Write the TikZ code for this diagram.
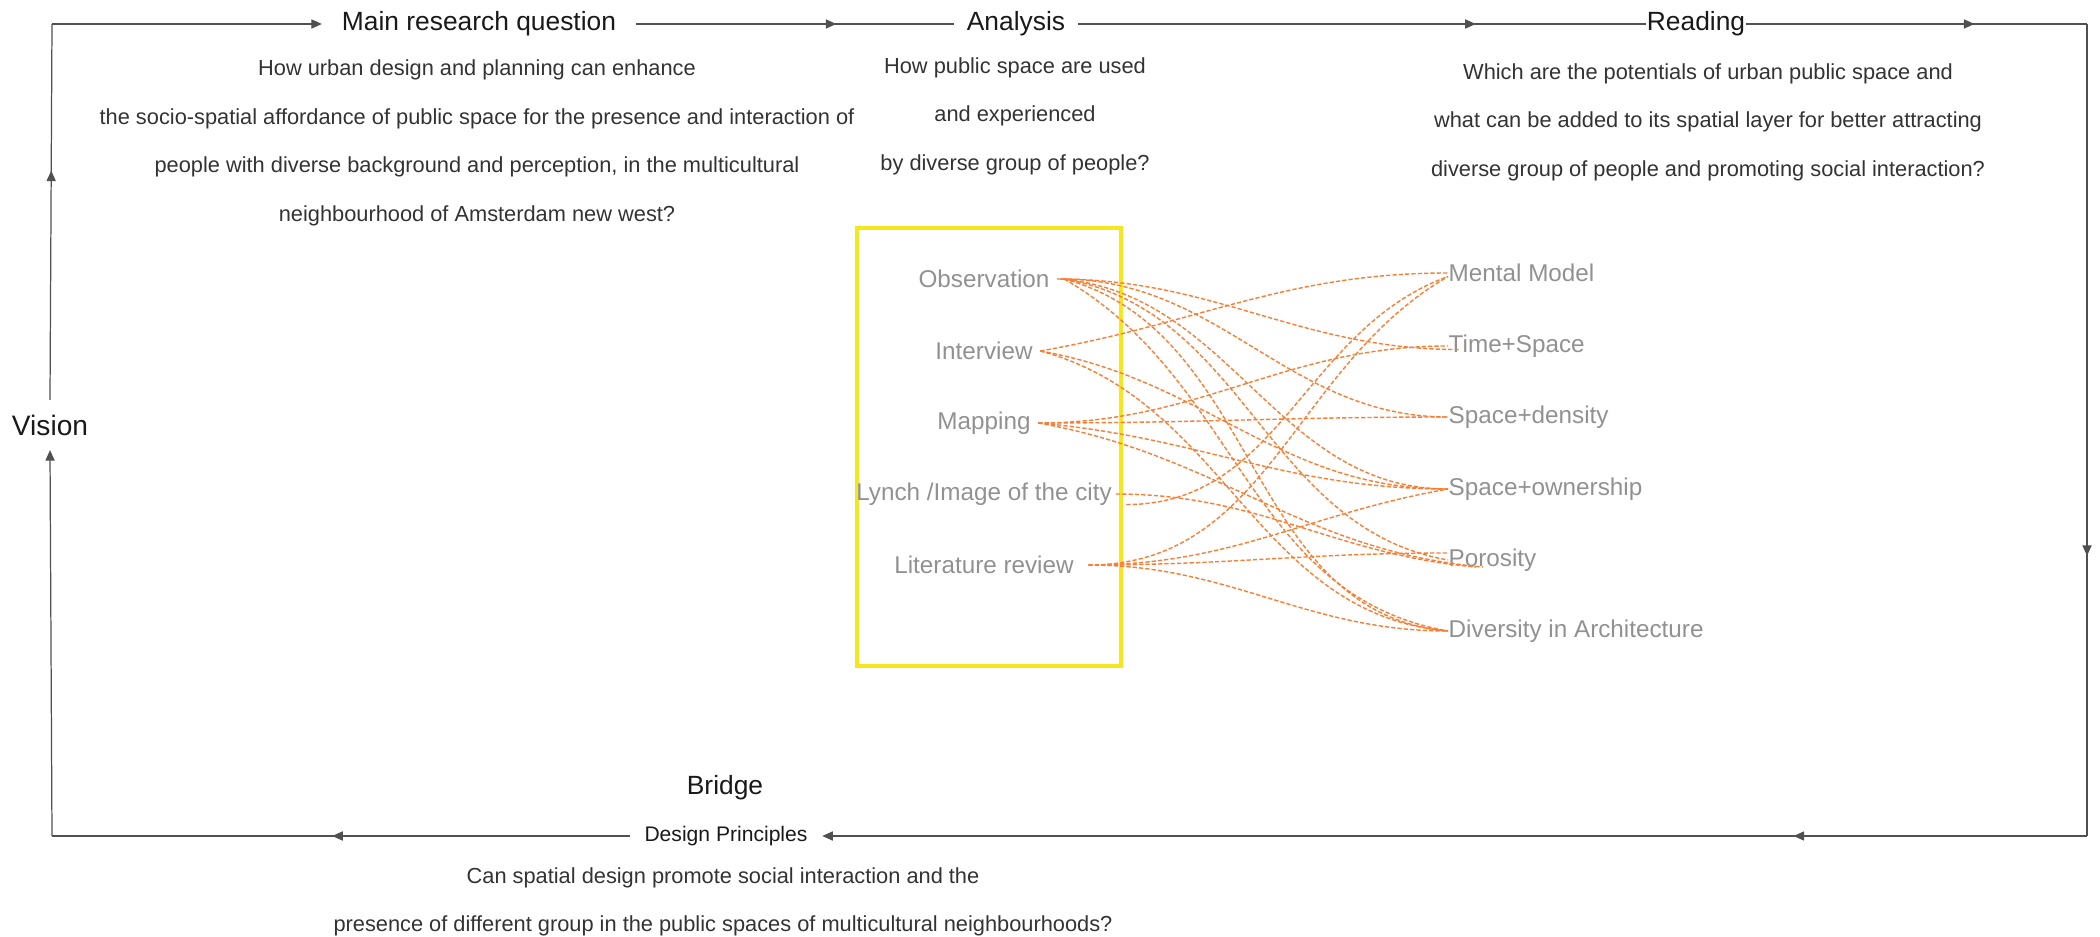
\documentclass[tikz,border=0pt]{standalone}
\usepackage{fontspec}
\setmainfont{Liberation Sans}
\usetikzlibrary{arrows.meta,decorations.markings}

\definecolor{flowline}{RGB}{80,80,80}
\definecolor{linkorange}{RGB}{250,125,50}
\definecolor{labelgray}{RGB}{145,145,145}
\definecolor{boxyellow}{RGB}{245,230,30}

\begin{document}
\begin{tikzpicture}[x=0.01cm,y=-0.01cm,
	flow/.style={draw=flowline, line width=0.35pt},
	tip/.style={-{Triangle[length=3pt,width=2.6pt]}},
	midtip/.style={postaction={decorate}, decoration={markings, mark=at position #1 with {\arrow{Triangle[length=3pt,width=2.6pt]}}}},
	head/.style={font=\fontsize{7.5}{9}\selectfont, text=black!90, inner sep=1.5pt},
	quest/.style={font=\fontsize{6.2}{13.8}\selectfont, text=black!80, align=center},
	method/.style={font=\fontsize{6.9}{8}\selectfont, text=labelgray, inner sep=0pt},
	link/.style={draw=linkorange, line width=0.4pt, dash pattern=on 1.2pt off 0.6pt}]
	\useasboundingbox (0,0) rectangle (2100,937);
	% frame corners
	\coordinate (nw) at (52,24);
	\coordinate (ne) at (2087,24);
	\coordinate (se) at (2087,836);
	\coordinate (sw) at (52,836);
	% headings
	\node[head] (mrq) at (479,24) {Main research question};
	\node[head, inner xsep=3.5pt] (ana) at (1016,24) {Analysis};
	\node[head, inner sep=0pt] (rea) at (1696,24) {Reading};
	\node[head, font=\fontsize{8}{9}\selectfont, inner ysep=4pt] (vis) at (50,425) {Vision};
	\node[head] (bri) at (725,788) {Bridge};
	\node[head, font=\fontsize{6}{7}\selectfont, inner sep=4pt] (dp) at (726,836) {Design Principles};
	% questions
	\node[quest] (mrqtext) at (477,143) {How urban design and planning can enhance\\the socio-spatial affordance of public space for the presence and interaction of\\people with diverse background and perception, in the multicultural\\neighbourhood of Amsterdam new west?};
	\node[quest] (anatext) at (1015,116) {How public space are used\\and experienced\\by diverse group of people?};
	\node[quest] (reatext) at (1708,122) {Which are the potentials of urban public space and\\what can be added to its spatial layer for better attracting\\diverse group of people and promoting social interaction?};
	\node[quest] (dptext) at (723,902) {Can spatial design promote social interaction and the\\presence of different group in the public spaces of multicultural neighbourhoods?};
	% loop of arrows
	\draw[flow, tip] (nw) -- ([xshift=-4pt]mrq.west);
	\draw[flow, midtip=0.63] ([xshift=4pt]mrq.east) -- (ana.west);
	\draw[flow, midtip=0.7] (ana.east) -- (rea.west);
	\draw[flow, midtip=0.67] (rea.east) -- (ne);
	\draw[flow, midtip=0.655] (ne) -- (se);
	\draw[flow, midtip=0.232, tip] (se) -- (dp.east);
	\draw[flow, midtip=0.515] (dp.west) -- (sw);
	\draw[flow, tip] (sw) -- (vis.south);
	\draw[flow, midtip=0.61] (vis.north) -- (nw);
	% methods
	\draw[boxyellow, line width=0.9pt] (857,228) rectangle (1121,666);
	\node[method] (obs) at (984,279) {Observation};
	\node[method] (int) at (984,351) {Interview};
	\node[method] (map) at (984,423) {Mapping};
	\node[method] (lyn) at (984,494) {Lynch /Image of the city};
	\node[method] (lit) at (984,565) {Literature review};
	% readings
	\node[method, anchor=west] (mm) at (1448,273) {Mental Model};
	\node[method, anchor=west] (ts) at (1448,346) {Time+Space};
	\node[method, anchor=west] (sd) at (1448,417) {Space+density};
	\node[method, anchor=west] (so) at (1448,489) {Space+ownership};
	\node[method, anchor=west] (po) at (1448,560) {Porosity};
	\node[method, anchor=west] (di) at (1448,631) {Diversity in Architecture};
	% links
	\draw[link] ([xshift=2pt]obs.east) to[out=0,in=180] ([xshift=3pt,yshift=-1pt]ts.west);
	\draw[link] ([xshift=3pt]obs.east) to[out=0,in=180] (sd.west);
	\draw[link] ([xshift=3pt]obs.east) to[out=-5,in=180] (so.west);
	\draw[link] ([xshift=4pt]obs.east) to[out=-10,in=170] (po.west);
	\draw[link] ([xshift=4pt]obs.east) to[out=-15,in=175] (di.west);
	\draw[link] ([xshift=4pt]obs.east) to[out=-30,in=170] (di.west);
	\draw[link] ([xshift=2pt]int.east) to[out=10,in=180] (mm.west);
	\draw[link] ([xshift=2pt]int.east) to[out=-10,in=180] (so.west);
	\draw[link] ([xshift=2pt]int.east) to[out=-15,in=175] (di.west);
	\draw[link] ([xshift=2pt]map.east) to[out=0,in=180] (ts.west);
	\draw[link] ([xshift=2pt]map.east) to[out=0,in=180] (sd.west);
	\draw[link] ([xshift=2pt]map.east) to[out=-5,in=180] (so.west);
	\draw[link] ([xshift=2pt]map.east) to[out=-10,in=175] ([xshift=10pt,yshift=-2pt]po.west);
	\draw[link] ([xshift=1pt]lyn.east) to[out=0,in=175] ([xshift=8pt,yshift=-2pt]po.west);
	\draw[link] ([xshift=4pt,yshift=-3pt]lyn.east) to[out=0,in=200] ([yshift=-1pt]mm.west);
	\draw[link] ([xshift=4pt]lit.east) to[out=0,in=210] ([yshift=-1pt]mm.west);
	\draw[link] ([xshift=4pt]lit.east) to[out=0,in=190] (so.west);
	\draw[link] ([xshift=4pt]lit.east) to[out=0,in=180] ([yshift=2pt]po.west);
	\draw[link] ([xshift=4pt]lit.east) to[out=0,in=180] (di.west);
\end{tikzpicture}
\end{document}
